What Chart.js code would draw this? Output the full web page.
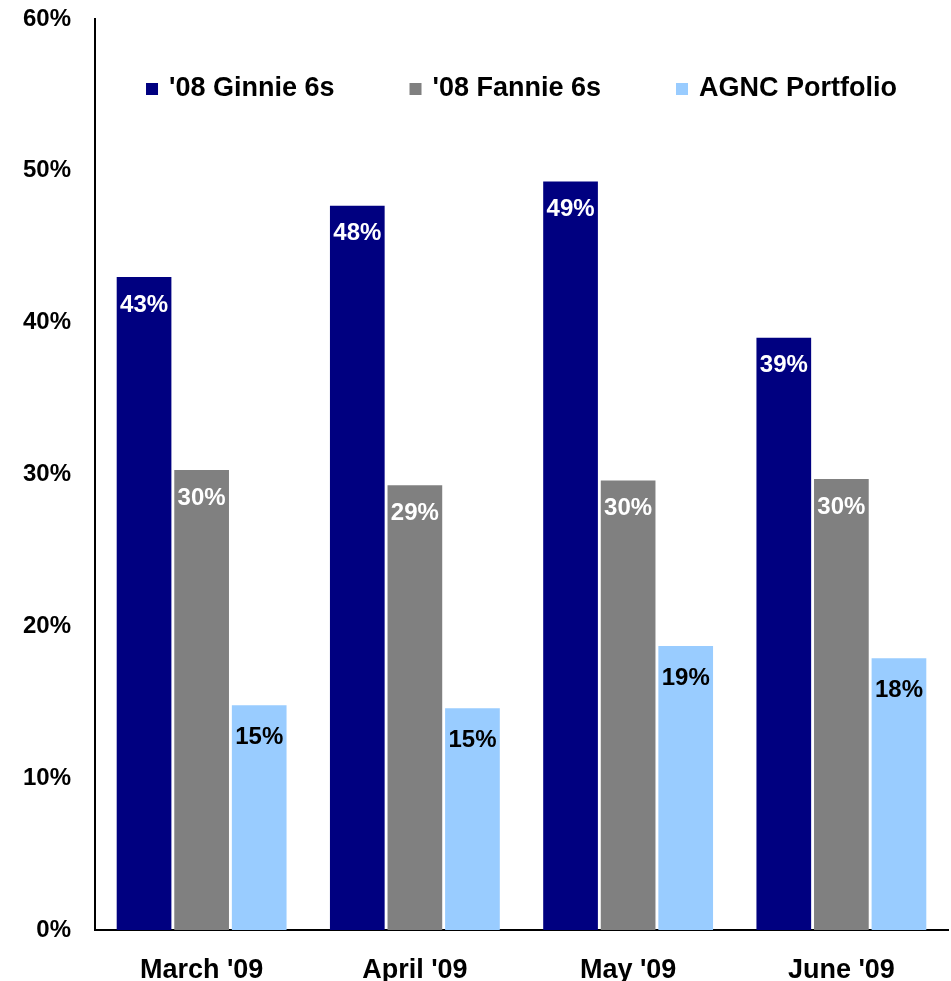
<!DOCTYPE html>
<html>
<head>
<meta charset="utf-8">
<script src="https://cdn.jsdelivr.net/npm/chart.js@4.4.1/dist/chart.umd.min.js"></script>
<style>
  html, body { margin: 0; padding: 0; background: #ffffff; }
  #wrap { width: 951px; height: 981px; position: relative; }
</style>
</head>
<body>
<div id="wrap"><canvas id="c" width="951" height="981"></canvas></div>
<script>
const categories = ["March '09", "April '09", "May '09", "June '09"];
const seriesNames = ["'08 Ginnie 6s", "'08 Fannie 6s", "AGNC Portfolio"];
const ginnie = [43.0, 47.7, 49.3, 39.0];
const fannie = [30.3, 29.3, 29.6, 29.7];
const agnc = [14.8, 14.6, 18.7, 17.9];
const yTicks = [0, 10, 20, 30, 40, 50, 60];

const colors = ['#000080', '#808080', '#99CCFF'];
const labelColors = ['#ffffff', '#ffffff', '#000000'];
const labelOffsets = [28, 28, 32];

const FONT = "'Liberation Sans', Arial, sans-serif";

const barLabels = {
  id: 'barLabels',
  afterDatasetsDraw(chart) {
    const ctx = chart.ctx;
    ctx.save();
    ctx.font = 'bold 24px ' + FONT;
    ctx.textAlign = 'center';
    ctx.textBaseline = 'middle';
    chart.data.datasets.forEach((ds, i) => {
      const meta = chart.getDatasetMeta(i);
      meta.data.forEach((bar, j) => {
        ctx.fillStyle = labelColors[i];
        ctx.fillText(Math.round(ds.data[j]) + '%', bar.x, bar.y + labelOffsets[i]);
      });
    });
    ctx.restore();
  }
};

const innerLegend = {
  id: 'innerLegend',
  afterDraw(chart) {
    const ctx = chart.ctx;
    const area = chart.chartArea;
    ctx.save();
    ctx.font = 'bold 27px ' + FONT;
    ctx.textBaseline = 'middle';
    const box = 12, gapText = 11, gapItem = 75;
    const items = chart.data.datasets.map(ds => ({
      label: ds.label, color: ds.backgroundColor, w: ctx.measureText(ds.label).width
    }));
    const total = items.reduce((s, it) => s + box + gapText + it.w, 0) + gapItem * (items.length - 1);
    let x = (area.left + area.right) / 2 - total / 2;
    const y = area.top + 70;
    items.forEach(it => {
      ctx.fillStyle = it.color;
      ctx.fillRect(x, y - box / 2, box, box);
      ctx.fillStyle = '#000000';
      ctx.fillText(it.label, x + box + gapText, y);
      x += box + gapText + it.w + gapItem;
    });
    ctx.restore();
  }
};

new Chart(document.getElementById('c'), {
  type: 'bar',
  data: {
    labels: categories,
    datasets: [
      { label: seriesNames[0], data: ginnie, backgroundColor: colors[0] },
      { label: seriesNames[1], data: fannie, backgroundColor: colors[1] },
      { label: seriesNames[2], data: agnc, backgroundColor: colors[2] }
    ]
  },
  options: {
    responsive: false,
    animation: false,
    devicePixelRatio: 1,
    layout: { padding: { left: 0, right: 3, top: 19, bottom: 0 } },
    datasets: { bar: { categoryPercentage: 0.81, barPercentage: 0.95 } },
    plugins: {
      legend: { display: false },
      tooltip: { enabled: false }
    },
    scales: {
      x: {
        grid: { display: false, drawTicks: false },
        border: { display: true, color: '#000000', width: 2 },
        ticks: { color: '#000000', font: { family: FONT, size: 27, weight: 'bold' }, padding: 24, maxRotation: 0 },
        afterFit(scale) { scale.height = 51; scale.paddingLeft = 0; scale.paddingRight = 0; }
      },
      y: {
        min: 0, max: 60,
        afterBuildTicks(scale) { scale.ticks = yTicks.map(v => ({ value: v })); },
        grid: { display: false, drawTicks: false },
        border: { display: true, color: '#000000', width: 2 },
        ticks: {
          color: '#000000', font: { family: FONT, size: 24, weight: 'bold' }, padding: 24,
          callback: v => v + '%'
        },
        afterFit(scale) { scale.width = 95; scale.paddingTop = 0; scale.paddingBottom = 0; }
      }
    }
  },
  plugins: [barLabels, innerLegend]
});
</script>
</body>
</html>
